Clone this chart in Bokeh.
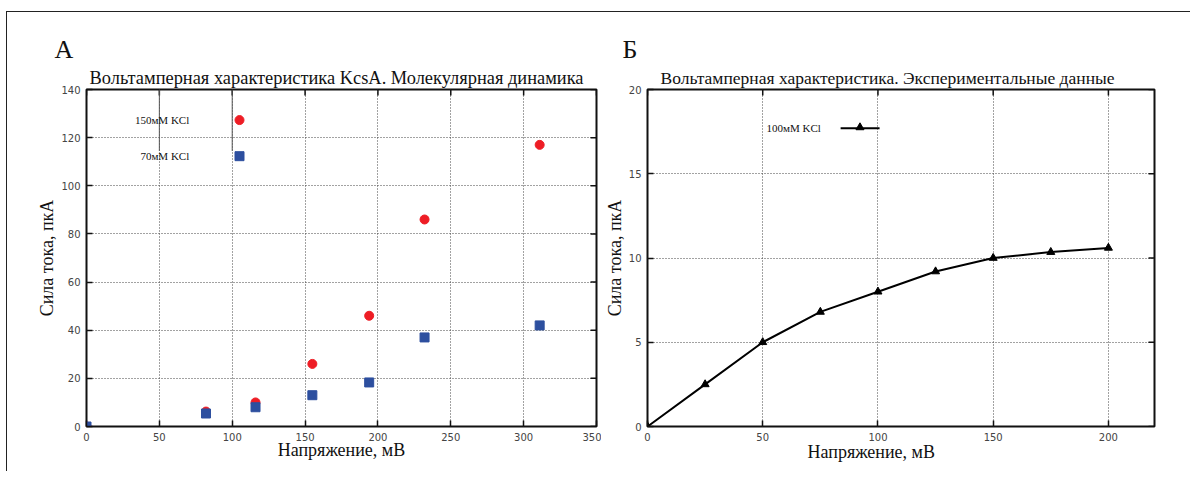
import math
from bokeh.plotting import figure
from bokeh.layouts import row
from bokeh.models import Label, FixedTicker, Range1d, Title
from bokeh.embed import file_html
from bokeh.resources import INLINE

# ---------------- data ----------------
# Panel A: molecular dynamics I-V
voltage_md = [0, 82, 116, 155, 194, 232, 311]
current_150 = [0, 6.2, 10, 26, 46, 86, 117]
current_70 = [0, 5.4, 8, 13, 18.3, 37, 42]

# Panel B: experimental I-V
voltage_exp = [0, 25, 50, 75, 100, 125, 150, 175, 200]
current_100 = [0, 2.5, 5, 6.8, 8, 9.2, 10, 10.35, 10.6]

x_ticks_a = [0, 50, 100, 150, 200, 250, 300, 350]
y_ticks_a = [0, 20, 40, 60, 80, 100, 120, 140]
x_ticks_b = [0, 50, 100, 150, 200]
y_ticks_b = [0, 5, 10, 15, 20]

title_a = "Вольтамперная характеристика KcsA. Молекулярная динамика"
title_b = "Вольтамперная характеристика. Экспериментальные данные"
letter_a = "А"
letter_b = "Б"
x_label = "Напряжение, мВ"
y_label = "Сила тока, пкА"
key_150 = "150мМ KCl"
key_70 = "70мМ KCl"
key_100 = "100мМ KCl"

SERIF = "Liberation Serif"
SANS = "DejaVu Sans"
RED = "#ee1d25"
BLUE = "#2d4f9f"
INK = "#111111"


def style(p, xt, yt, title, title_size, title_offset, letter, letter_offset):
    p.outline_line_color = INK
    p.outline_line_width = 2
    for ax, ticks in ((p.xaxis[0], xt), (p.yaxis[0], yt)):
        ax.ticker = FixedTicker(ticks=ticks)
        ax.axis_line_color = None
        ax.major_tick_in = 6
        ax.major_tick_out = 0
        ax.major_tick_line_color = INK
        ax.major_tick_line_width = 1.5
        ax.minor_tick_line_color = None
        ax.major_label_text_font = SANS
        ax.major_label_text_font_size = "10px"
        ax.major_label_text_color = "#444444"
        ax.major_label_standoff = 6
        ax.axis_label_text_font = SERIF
        ax.axis_label_text_font_size = "18px"
        ax.axis_label_text_font_style = "normal"
        ax.axis_label_text_color = INK
    p.yaxis[0].axis_label = y_label
    p.xaxis[0].axis_label_standoff = -4
    p.yaxis[0].axis_label_standoff = 1
    p.xgrid.ticker = FixedTicker(ticks=xt)
    p.ygrid.ticker = FixedTicker(ticks=yt)
    for g in (p.xgrid[0], p.ygrid[0]):
        g.grid_line_color = "#444444"
        g.grid_line_dash = "1 2"
        g.grid_line_width = 1
    # mirrored inward ticks on top and right border (half of each dash is clipped by the frame)
    x_end = p.x_range.end
    y_end = p.y_range.end
    p.scatter(xt, [y_end] * len(xt), marker="dash", angle=math.pi / 2, size=12,
              line_color=INK, line_width=1.5)
    p.scatter([x_end] * len(yt), yt, marker="dash", size=12, line_color=INK, line_width=1.5)
    # titles
    p.add_layout(Title(text=title, align="left", offset=title_offset, standoff=3,
                       text_font=SERIF, text_font_size=title_size, text_font_style="normal",
                       text_color=INK), "above")
    p.add_layout(Title(text=letter, align="left", offset=letter_offset, standoff=2,
                       text_font=SERIF, text_font_size="26px", text_font_style="normal",
                       text_color=INK), "above")


# ---------------- panel A ----------------
p1 = figure(frame_width=510, frame_height=337,
            x_range=Range1d(0, 350), y_range=Range1d(0, 140),
            min_border_left=79, min_border_right=5, min_border_top=77, min_border_bottom=45,
            output_backend="svg", toolbar_location=None)
style(p1, x_ticks_a, y_ticks_a, title_a, "18.4px", 3, letter_a, -32)
p1.xaxis[0].axis_label = x_label

p1.scatter(voltage_md, current_150, marker="circle", size=9, color=RED)
p1.scatter(voltage_md, current_70, marker="square", size=9, color=BLUE)

# key (gnuplot style: label then sample)
p1.segment(x0=[50, 100], y0=[140, 140], x1=[50, 100], y1=[114.5, 114.5],
           line_color="#555555", line_width=1)
p1.scatter([105], [127.3], marker="circle", size=9, color=RED)
p1.scatter([105], [112.3], marker="square", size=9, color=BLUE)
p1.add_layout(Label(x=70.5, y=127.3, text=key_150, text_align="right", text_baseline="middle",
                    text_font=SERIF, text_font_size="11px", text_color=INK))
p1.add_layout(Label(x=70.5, y=112.3, text=key_70, text_align="right", text_baseline="middle",
                    text_font=SERIF, text_font_size="11px", text_color=INK))

# ---------------- panel B ----------------
p2 = figure(frame_width=507, frame_height=337,
            x_range=Range1d(0, 220), y_range=Range1d(0, 20),
            min_border_left=42, min_border_right=36, min_border_top=77, min_border_bottom=40,
            output_backend="svg", toolbar_location=None)
style(p2, x_ticks_b, y_ticks_b, title_b, "17.5px", 13, letter_b, -25)
# x-axis caption of panel B sits left of centre in the original
p2.add_layout(Title(text=x_label, align="left", offset=160, standoff=-7,
                    text_font=SERIF, text_font_size="18px", text_font_style="normal",
                    text_color=INK), "below")

p2.line(voltage_exp, current_100, line_color="black", line_width=2)
p2.scatter(voltage_exp, current_100, marker="triangle", size=8, color="black")

p2.line([83.8, 100.7], [17.7, 17.7], line_color="black", line_width=2)
p2.scatter([92.2], [17.75], marker="triangle", size=8, color="black")
p2.add_layout(Label(x=75.2, y=17.7, text=key_100, text_align="right", text_baseline="middle",
                    text_font=SERIF, text_font_size="11px", text_color=INK))

layout = row(p1, p2, styles={"border-top": "1.5px solid #222222",
                             "border-left": "1.5px solid #222222",
                             "margin-top": "11px", "margin-left": "6px"})

open("out.html", "w").write(file_html(layout, INLINE))
